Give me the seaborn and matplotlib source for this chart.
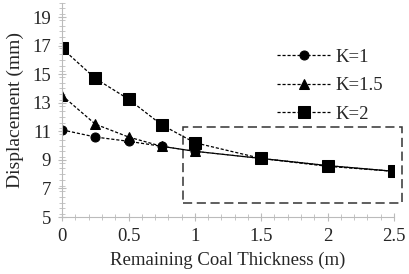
import pandas as pd
import matplotlib.pyplot as plt
import seaborn as sns
from matplotlib.patches import Rectangle
from matplotlib.ticker import MultipleLocator

thickness = [0, 0.25, 0.5, 0.75, 1, 1.5, 2, 2.5]
k1 = [11.1, 10.6, 10.3, 9.95, 9.6, 9.1, 8.6, 8.2]
k15 = [13.5, 11.5, 10.6, 9.95, 9.6, 9.1, 8.6, 8.2]
k2 = [16.8, 14.7, 13.25, 11.45, 10.2, 9.1, 8.55, 8.2]
labels = ["K=1", "K=1.5", "K=2"]
markers = ["o", "^", "s"]
msizes = [6.5, 7.5, 8]

# zoom box (data coords)
box_x, box_y, box_w, box_h = 0.91, 5.97, 1.65, 5.3

sns.set_style("white")
plt.rcParams['font.family'] = ['Liberation Serif', 'DejaVu Serif']

fig = plt.figure(figsize=(4.09, 2.74), dpi=100)
ax = fig.add_axes([0.152, 0.208, 0.811, 0.782])

for vals, lab, m, ms in zip([k1, k15, k2], labels, markers, msizes):
    df = pd.DataFrame({"x": thickness, "y": vals})
    sns.lineplot(data=df, x="x", y="y", ax=ax, color="black", lw=0.9,
                 linestyle=(0, (2.5, 1.5)), marker=m, markersize=ms,
                 markeredgecolor="black", label=lab)

ax.add_patch(Rectangle((box_x, box_y), box_w, box_h, fill=False,
                       ls=(0, (6, 3)), lw=1.1, ec="#333333", clip_on=False))

ax.set_xlim(0, 2.5)
ax.set_ylim(5, 20)
ax.set_xticks([0, 0.5, 1, 1.5, 2, 2.5])
ax.set_xticklabels(["0", "0.5", "1", "1.5", "2", "2.5"])
ax.set_yticks(range(5, 20, 2))
ax.xaxis.set_minor_locator(MultipleLocator(0.1))
ax.yaxis.set_minor_locator(MultipleLocator(0.4))
ax.tick_params(which="major", direction="inout", length=6, color="#bbbbbb",
               labelsize=13.5, pad=5)
ax.tick_params(which="minor", direction="inout", length=4, color="#bbbbbb")
ax.tick_params(axis="x", bottom=True, which="both")
ax.tick_params(axis="y", left=True, which="both")
for s in ["top", "right"]:
    ax.spines[s].set_visible(False)
for s in ["left", "bottom"]:
    ax.spines[s].set_color("#bbbbbb")
ax.set_xlabel("Remaining Coal Thickness (m)", fontsize=13.5, labelpad=5)
ax.set_ylabel("Displacement (mm)", fontsize=14, labelpad=6)

ax.legend(loc="upper right", bbox_to_anchor=(0.99, 0.82), frameon=False,
          fontsize=13.5, handlelength=2.8, labelspacing=0.6, handletextpad=0.3,
          borderaxespad=0)

fig.savefig("out.png", dpi=100)
